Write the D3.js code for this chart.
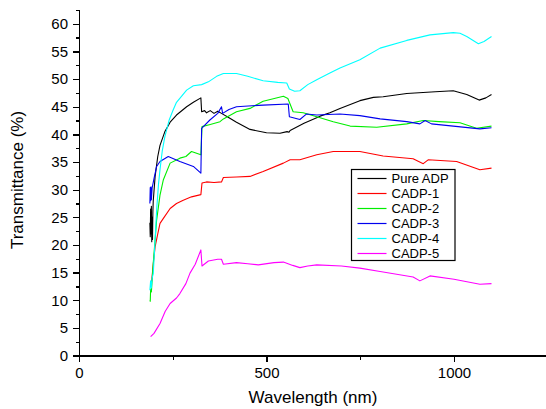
<!DOCTYPE html>
<meta charset="utf-8">
<style>
body { margin: 0; background: #fff; }
text { font-family: Arial, "Liberation Sans", Helvetica, sans-serif; fill: #000; }
.axis path, .axis line { stroke: #000; stroke-width: 1.3px; shape-rendering: crispEdges; }
.axis text { font-size: 15px; }
.series { fill: none; stroke-width: 1.1px; stroke-linejoin: round; }
</style>
<body>
<script src="https://d3js.org/d3.v7.min.js"></script>
<script>

// transmittance spectra, [wavelength nm, transmittance %]
var pureADP = [[189,24],[190,21.5],[191,26.5],[192,22],[193,27],[194,20.6],[195,25],[196,21],[197,26],[198,28],
  [203,32.4],[210,36],[216,38],[229,40.5],[243,42.2],[260,43.5],[287,45],[305,45.8],[325,46.6],[327,44.1],
  [335,44.3],[340,43.9],[350,44.3],[360,43.8],[370,44.2],[380,43.8],[400,43],[420,42.2],[456,40.9],[500,40.3],
  [536,40.2],[555,40.5],[560,40.4],[563,40.7],[600,42],[643,43.3],[669,43.9],[696,44.7],[749,46.1],[785,46.7],
  [811,46.8],[874,47.4],[950,47.7],[998,47.9],[1034,47.2],[1067,46.2],[1085,46.6],[1100,47.2]];

var cadp1 = [[191,12.5],[194,13.6],[198,16.5],[203,19.7],[210,22],[216,23.9],[225,24.8],[243,26.6],[260,27.5],
  [278,28.1],[300,28.7],[325,29.1],[328,31.2],[340,31.4],[360,31.3],[380,31.4],[385,32.2],[420,32.3],[456,32.4],
  [491,33.3],[545,34.8],[563,35.4],[589,35.4],[634,36.3],[678,36.9],[749,36.9],[811,36.1],[891,35.6],[918,34.7],
  [931,35.4],[1007,35.1],[1069,33.6],[1100,33.9]];

var cadp2 = [[189,10],[190,9.8],[191,12],[193,11.5],[198,16.7],[203,21],[207,24.5],[216,29],[225,31.8],[243,34.8],
  [269,35.7],[285,36],[300,36.9],[325,36.3],[328,41.4],[350,41.8],[376,42.3],[385,42.8],[420,44.1],[456,44.7],
  [491,46],[545,46.9],[557,46.5],[571,44.1],[598,43.9],[634,43.2],[678,42.3],[723,41.5],[794,41.3],[874,41.9],
  [918,42.5],[960,42.3],[1016,42.1],[1060,41.1],[1100,41.5]];

var cadp3 = [[189,27.5],[190,30.4],[191,28],[192,30.5],[193,28.2],[195,30.3],[200,32],[207,34.2],[216,35.1],[238,36],
  [269,35.1],[305,34.2],[325,33],[327,41.1],[349,42.6],[370,43.8],[380,45],[383,43.8],[400,44.5],[420,45],
  [491,45.3],[558,45.5],[561,43.2],[589,42.7],[607,43.7],[634,43.5],[696,43.7],[749,43.4],[803,42.8],[874,42.3],
  [909,41.9],[923,42.5],[940,41.9],[998,41.5],[1069,41],[1100,41.2]];

var cadp4 = [[189,11.8],[191,13.5],[193,12.2],[195,14],[198,14.8],[203,21],[207,26.3],[212,31],[216,33.6],[222,37],
  [229,39.6],[240,42.5],[251,44.4],[260,45.8],[287,48],[305,48.8],[327,49],[345,49.5],[367,50.5],[385,51],
  [420,51],[450,50.5],[491,49.7],[530,49.4],[554,49.3],[561,48.2],[575,47.8],[589,47.9],[610,49],[634,49.9],
  [669,51.1],[696,52],[749,53.5],[803,55.6],[874,57],[936,58],[998,58.4],[1016,58.3],[1034,57.7],[1065,56.4],
  [1080,56.8],[1100,57.7]];

var cadp5 = [[191,3.4],[200,4],[216,5.8],[230,8],[243,9.4],[260,10.4],[269,11.2],[285,13],[296,14.9],[310,16.5],
  [325,19.1],[328,16.2],[345,17.1],[370,17.4],[380,17.4],[385,16.5],[420,16.8],[450,16.6],[478,16.4],[520,16.8],
  [545,16.9],[570,16.3],[589,15.9],[610,16.2],[634,16.4],[700,16.2],[749,15.8],[803,15.2],[891,14.2],[909,13.5],
  [936,14.4],[1000,13.8],[1069,12.9],[1100,13]];

var seriesNames = ["Pure ADP", "CADP-1", "CADP-2", "CADP-3", "CADP-4", "CADP-5"],
    seriesColors = ["#000000", "#ff0000", "#00ee00", "#0000ee", "#00ffff", "#ff00ff"],
    seriesData = [pureADP, cadp1, cadp2, cadp3, cadp4, cadp5];

var yTicks = d3.range(0, 61, 5),
    xTicks = [0, 500, 1000];

var width = 546, height = 409,
    marginLeft = 79, plotTop = 10, plotBottom = 355.5;

var x = d3.scaleLinear().domain([0, 1250]).range([marginLeft, marginLeft + 1250 * 0.375]);
var y = d3.scaleLinear().domain([0, 62.5]).range([plotBottom, plotTop]);

var svg = d3.select("body").append("svg")
    .attr("width", width)
    .attr("height", height);

// minor ticks first, majors drawn on top
svg.append("g")
    .attr("class", "axis")
    .attr("transform", "translate(" + marginLeft + ",0)")
    .call(d3.axisLeft(y).tickValues(d3.range(2.5, 62.5, 5)).tickSize(3).tickFormat(""));

svg.append("g")
    .attr("class", "axis")
    .attr("transform", "translate(0," + plotBottom + ")")
    .call(d3.axisBottom(x).tickValues([250, 750, 1250]).tickSize(4).tickFormat(""));

svg.append("g")
    .attr("class", "axis")
    .attr("transform", "translate(" + marginLeft + ",0)")
    .call(d3.axisLeft(y).tickValues(yTicks).tickSize(6).tickSizeOuter(0).tickPadding(5));

svg.append("g")
    .attr("class", "axis")
    .attr("transform", "translate(0," + plotBottom + ")")
    .call(d3.axisBottom(x).tickValues(xTicks).tickSize(6).tickSizeOuter(0).tickPadding(6)
      .tickFormat(d3.format("d")));

var line = d3.line()
    .x(function(d) { return x(d[0]); })
    .y(function(d) { return y(d[1]); });

svg.append("g").selectAll("path")
    .data(seriesData)
  .enter().append("path")
    .attr("class", "series")
    .attr("stroke", function(d, i) { return seriesColors[i]; })
    .attr("d", line);

svg.append("text")
    .attr("transform", "translate(23,180)rotate(-90)")
    .attr("text-anchor", "middle")
    .style("font-size", "17px")
    .text("Transmittance (%)");

svg.append("text")
    .attr("x", 313)
    .attr("y", 403)
    .attr("text-anchor", "middle")
    .style("font-size", "17px")
    .text("Wavelength (nm)");

// legend
var legend = svg.append("g").attr("transform", "translate(351.5,169.5)");

legend.append("rect")
    .attr("width", 103.5)
    .attr("height", 91)
    .attr("fill", "#fff")
    .attr("stroke", "#000")
    .attr("stroke-width", 1.2);

var item = legend.selectAll(".item")
    .data(seriesNames)
  .enter().append("g")
    .attr("transform", function(d, i) { return "translate(0," + (9 + i * 15) + ")"; });

item.append("line")
    .attr("x1", 6).attr("x2", 35)
    .attr("stroke", function(d, i) { return seriesColors[i]; })
    .attr("stroke-width", 1.2);

item.append("text")
    .attr("x", 40)
    .attr("dy", "0.36em")
    .style("font-size", "13px")
    .text(function(d) { return d; });

</script>
